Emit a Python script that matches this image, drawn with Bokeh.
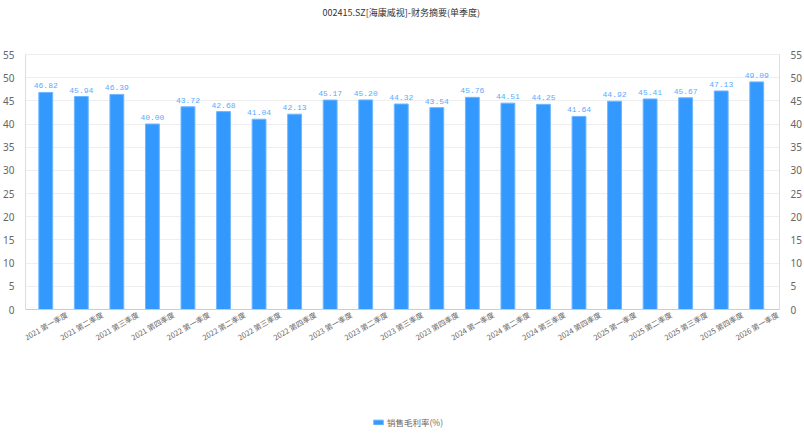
from bokeh.plotting import figure
from bokeh.models import (ColumnDataSource, Range1d, LinearAxis, FixedTicker,
                          Legend, LegendItem, LabelSet, Label, Span)
from bokeh.core.properties import value
from bokeh.embed import file_html
from bokeh.resources import INLINE
import math

categories = ["2021 第一季度", "2021 第二季度", "2021 第三季度", "2021 第四季度",
              "2022 第一季度", "2022 第二季度", "2022 第三季度", "2022 第四季度",
              "2023 第一季度", "2023 第二季度", "2023 第三季度", "2023 第四季度",
              "2024 第一季度", "2024 第二季度", "2024 第三季度", "2024 第四季度",
              "2025 第一季度", "2025 第二季度", "2025 第三季度", "2025 第四季度",
              "2026 第一季度"]
gross_margin = [46.82, 45.94, 46.39, 40.00, 43.72, 42.68, 41.04, 42.13,
                45.17, 45.20, 44.32, 43.54, 45.76, 44.51, 44.25, 41.64,
                44.92, 45.41, 45.67, 47.13, 49.09]
y_ticks = [0, 5, 10, 15, 20, 25, 30, 35, 40, 45, 50, 55]
title_text = "002415.SZ[海康威视]-财务摘要(单季度)"
series_name = "销售毛利率(%)"

BAR = "#3399ff"
LABEL = "#5aabff"
AXIS_TXT = "#666666"
CJK = "Noto Sans CJK SC"

# layout (pixels): plot area spans the full height; value axis occupies 54..309
W, H = 804, 435
AX_TOP, AX_BOTTOM = 54, 309
y_max = y_ticks[-1]
ppu = (AX_BOTTOM - AX_TOP) / y_max
y_start = -(H - AX_BOTTOM) / ppu
y_end = y_max + AX_TOP / ppu
# horizontal padding (in category units) between the value axes and the bars
X_PAD_LEFT, X_PAD_RIGHT = 0.57, 0.64

idx = list(range(len(categories)))
src = ColumnDataSource(dict(x=idx, v=gross_margin, c=categories,
                            t=["%.2f" % v for v in gross_margin]))

p = figure(width=W, height=H, output_backend="svg", toolbar_location=None,
           x_range=Range1d(-X_PAD_LEFT, len(categories) - 1 + X_PAD_RIGHT),
           y_range=Range1d(y_start, y_end),
           min_border_left=20, min_border_right=20,
           min_border_top=0, min_border_bottom=0)
p.outline_line_color = None
p.background_fill_color = "white"
p.xaxis.visible = False

bars = p.vbar(x="x", top="v", width=0.39, source=src, fill_color=BAR,
              line_color="#6fb7ff", line_width=1)
p.text(x="x", y="v", text="t", source=src, text_align="center",
       text_baseline="bottom", y_offset=-4, text_color=LABEL,
       text_font=value("Liberation Mono"), text_font_size="8px")

# bottom axis line and rotated category labels
p.add_layout(Span(location=0, dimension="width", line_color="#cccccc",
                  line_width=1))
cat_labels = LabelSet(x="x", y=0, text="c", source=src, angle=math.pi / 6,
                      text_align="right", text_baseline="middle",
                      x_offset=21, y_offset=-4, text_font=value(CJK),
                      text_font_size="7.5px", text_color=AXIS_TXT)
p.add_layout(cat_labels, "below")

# title
p.add_layout(Label(x=(len(categories) - 1) / 2, y=y_max, y_offset=42,
                   text=title_text, text_align="center",
                   text_baseline="middle", text_font=CJK,
                   text_font_size="9px", text_color="#333333"))

# y axes
def style_y(ax):
    ax.ticker = FixedTicker(ticks=y_ticks)
    ax.bounds = (0, y_max)
    ax.axis_line_color = "#dddddd"
    ax.major_tick_line_color = None
    ax.minor_tick_line_color = None
    ax.major_label_text_font = "Noto Sans"
    ax.major_label_text_font_size = "10px"
    ax.major_label_text_color = AXIS_TXT
    ax.major_label_standoff = 5

style_y(p.yaxis[0])
ra = LinearAxis()
style_y(ra)
p.add_layout(ra, "right")

p.xgrid.grid_line_color = None
p.ygrid.ticker = FixedTicker(ticks=y_ticks)
p.ygrid.grid_line_color = "#eeeeee"

legend = Legend(items=[LegendItem(label=series_name, renderers=[bars])],
                location=(347, 7), orientation="horizontal",
                padding=0, spacing=0, margin=0, label_height=12,
                glyph_height=6, glyph_width=12, label_standoff=3,
                label_text_font=CJK, label_text_font_size="8.5px",
                label_text_color=AXIS_TXT, border_line_color=None,
                background_fill_alpha=0)
p.add_layout(legend, "center")

open("out.html", "w").write(file_html(p, INLINE))
